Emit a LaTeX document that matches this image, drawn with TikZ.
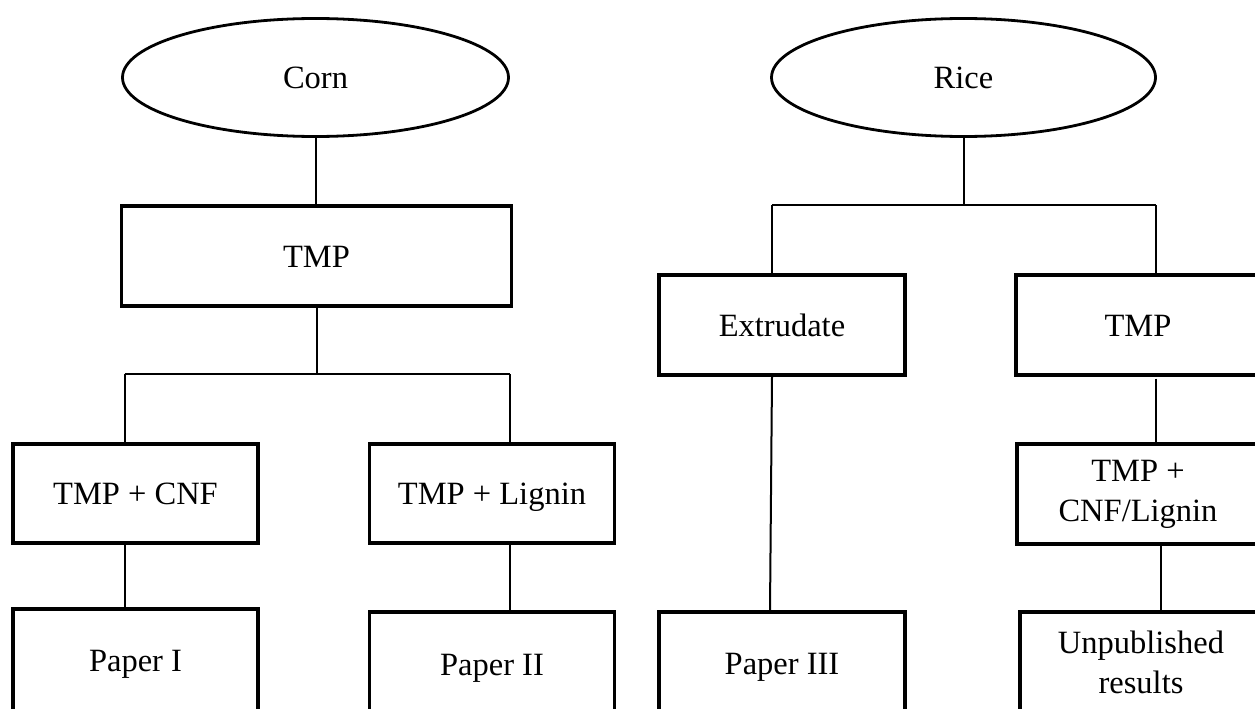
\documentclass[tikz,border=0pt]{standalone}
\usepackage{fontspec}
\setmainfont{Liberation Serif}
\usetikzlibrary{shapes.geometric}
\begin{document}
\begin{tikzpicture}[x=1pt,y=-1pt,
  lbl/.style={font=\fontsize{32.5}{40}\selectfont, align=center, inner sep=0pt},
  single/.style={text height=26pt, text depth=4pt},
  oval/.style={lbl, single, draw, ellipse, line width=2.8pt},
  boxnode/.style={lbl, draw, rectangle, line width=3.2pt},
  conn/.style={line width=2pt}]
\useasboundingbox (0,0) rectangle (1255,709);
\clip (0,0) rectangle (1255,709);
\fill[white] (0,0) rectangle (1255,709);

% left tree
\node[oval, minimum width=386pt, minimum height=118pt] (corn) at (315.5,77.5) {Corn};
\node[boxnode, single, minimum width=390pt, minimum height=100pt] (tmpL) at (316.5,256) {TMP};
\node[boxnode, single, minimum width=245pt, minimum height=99pt] (cnf) at (135.5,493.5) {TMP + CNF};
\node[boxnode, single, minimum width=245pt, minimum height=99pt] (lig) at (492,493.5) {TMP + Lignin};
\node[boxnode, single, minimum width=245pt, minimum height=102pt] (p1) at (135.5,660) {Paper I};
\node[boxnode, single, minimum width=245pt, minimum height=104pt] (p2) at (492,664) {Paper II};

% right tree
\node[oval, minimum width=384pt, minimum height=118pt] (rice) at (963.5,77.5) {Rice};
\node[boxnode, single, minimum width=246pt, minimum height=100pt] (ext) at (782,325) {Extrudate};
\node[boxnode, single, minimum width=244pt, minimum height=100pt] (tmpR) at (1138,325) {TMP};
\node[boxnode, minimum width=242pt, minimum height=100pt] (cl) at (1138,494) {TMP +\\CNF/Lignin};
\node[boxnode, single, minimum width=246pt, minimum height=102pt] (p3) at (782,663) {Paper III};
\node[boxnode, minimum width=242pt, minimum height=100pt] (unp) at (1141,662) {Unpublished\\results};

% left connectors
\coordinate (bl) at (124.5,374);
\coordinate (br) at (509.5,374);
\draw[conn] (corn.south) -- (corn.south |- tmpL.north);
\draw[conn] (tmpL.south) -- (tmpL.south |- bl);
\draw[conn] (bl) -- (br);
\draw[conn] (bl) -- (bl |- cnf.north);
\draw[conn] (br) -- (br |- lig.north);
\draw[conn] (bl |- cnf.south) -- (bl |- p1.north);
\draw[conn] (br |- lig.south) -- (br |- p2.north);

% right connectors
\coordinate (rl) at (772,205);
\coordinate (rr) at (1155.5,205);
\coordinate (ux) at (1160.7,544);
\draw[conn] (rice.south) -- (rice.south |- rl);
\draw[conn] (rl) -- (rr);
\draw[conn] (rl) -- (rl |- ext.north);
\draw[conn] (rr) -- (rr |- tmpR.north);
\draw[conn] (rl |- ext.south) -- ([xshift=-2pt]rl |- p3.north);
\draw[conn] ([yshift=-2pt]rr |- tmpR.south) -- (rr |- cl.north);
\draw[conn] (ux |- cl.south) -- (ux |- unp.north);
\end{tikzpicture}
\end{document}
